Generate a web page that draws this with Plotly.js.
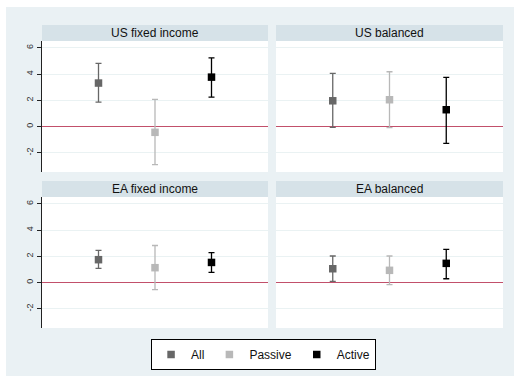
<!DOCTYPE html>
<html>
<head>
<meta charset="utf-8">
<script src="https://cdn.plot.ly/plotly-3.0.1.min.js"></script>
<style>
html,body{margin:0;padding:0;background:#ffffff;}
#chart{position:absolute;left:6px;top:7px;width:508px;height:369px;}
</style>
</head>
<body>
<div id="chart"></div>
<script>
// ---- data ----
const panels = ["US fixed income", "US balanced", "EA fixed income", "EA balanced"];
const groups = ["All", "Passive", "Active"];
const groupX = [1, 2, 3];
const allEst = [3.32, 1.97, 1.75, 1.06];
const allHi  = [4.81, 4.05, 2.46, 2.03];
const allLo  = [1.87, -0.05, 1.09, 0.10];
const passiveEst = [-0.43, 2.05, 1.14, 0.94];
const passiveHi  = [2.08, 4.18, 2.83, 2.03];
const passiveLo  = [-2.89, -0.08, -0.53, -0.15];
const activeEst = [3.77, 1.29, 1.54, 1.47];
const activeHi  = [5.24, 3.75, 2.28, 2.53];
const activeLo  = [2.25, -1.27, 0.78, 0.30];
const yTicks = [-2, 0, 2, 4, 6];

// ---- styling ----
const W = 508, H = 369;
const colors = ["#676767", "#b8b8b8", "#000000"];
const est = [allEst, passiveEst, activeEst];
const hi = [allHi, passiveHi, activeHi];
const lo = [allLo, passiveLo, activeLo];

const colDom = [[36 / W, 262 / W], [270 / W, 497 / W]];
const rowDom = [[(H - 165) / H, (H - 34) / H], [(H - 321) / H, (H - 190) / H]];
const headerH = 16 / H;

const traces = [];
for (let p = 0; p < panels.length; p++) {
  const ax = p === 0 ? "" : String(p + 1);
  for (let g = 0; g < groups.length; g++) {
    traces.push({
      type: "scatter", mode: "markers",
      x: [groupX[g]], y: [est[g][p]],
      xaxis: "x" + ax, yaxis: "y" + ax,
      name: groups[g], legendgroup: groups[g], showlegend: p === 0,
      marker: {symbol: "square", size: 7.5, color: colors[g]},
      error_y: {type: "data", symmetric: false,
        array: [hi[g][p] - est[g][p]], arrayminus: [est[g][p] - lo[g][p]],
        color: colors[g], thickness: 1.3, width: 3},
      cliponaxis: false
    });
  }
}

const layout = {
  width: W, height: H,
  margin: {l: 0, r: 0, t: 0, b: 0},
  paper_bgcolor: "#eaf1f4",
  plot_bgcolor: "#ffffff",
  font: {family: "Liberation Sans, Arial, sans-serif", color: "#222"},
  showlegend: true,
  legend: {orientation: "h", x: 0.507, xanchor: "center", y: (H - 332) / H, yanchor: "top",
    bgcolor: "#ffffff", bordercolor: "#000000", borderwidth: 1,
    font: {size: 12, color: "#111"}, itemclick: false, itemdoubleclick: false},
  shapes: [], annotations: []
};

for (let p = 0; p < panels.length; p++) {
  const ax = p === 0 ? "" : String(p + 1);
  const r = Math.floor(p / 2), c = p % 2;
  layout["xaxis" + ax] = {domain: colDom[c], range: [0, 4], anchor: "y" + ax,
    showgrid: false, zeroline: false, showline: false, showticklabels: false, ticks: "", fixedrange: true};
  layout["yaxis" + ax] = {domain: rowDom[r], range: [-3.45, 6.52], anchor: "x" + ax,
    tickvals: yTicks, ticktext: yTicks.map(String),
    showgrid: true, gridcolor: "#eaf2f3", gridwidth: 1,
    zeroline: true, zerolinecolor: "#c2506b", zerolinewidth: 1.6,
    showline: c === 0, linecolor: "#222", linewidth: 1,
    ticks: c === 0 ? "outside" : "", ticklen: 4, tickcolor: "#222",
    showticklabels: c === 0, tickangle: -90,
    tickfont: {size: 9, color: "#333"}, fixedrange: true};
  layout.shapes.push({type: "rect", xref: "paper", yref: "paper",
    x0: colDom[c][0], x1: colDom[c][1], y0: rowDom[r][1], y1: rowDom[r][1] + headerH,
    fillcolor: "#d6e2e8", line: {width: 0}, layer: "below"});
  layout.annotations.push({xref: "paper", yref: "paper",
    x: (colDom[c][0] + colDom[c][1]) / 2, y: rowDom[r][1] + headerH / 2,
    xanchor: "center", yanchor: "middle", showarrow: false,
    text: panels[p], font: {size: 12, color: "#111"}});
}

Plotly.newPlot("chart", traces, layout, {displayModeBar: false, staticPlot: true});
</script>
</body>
</html>
